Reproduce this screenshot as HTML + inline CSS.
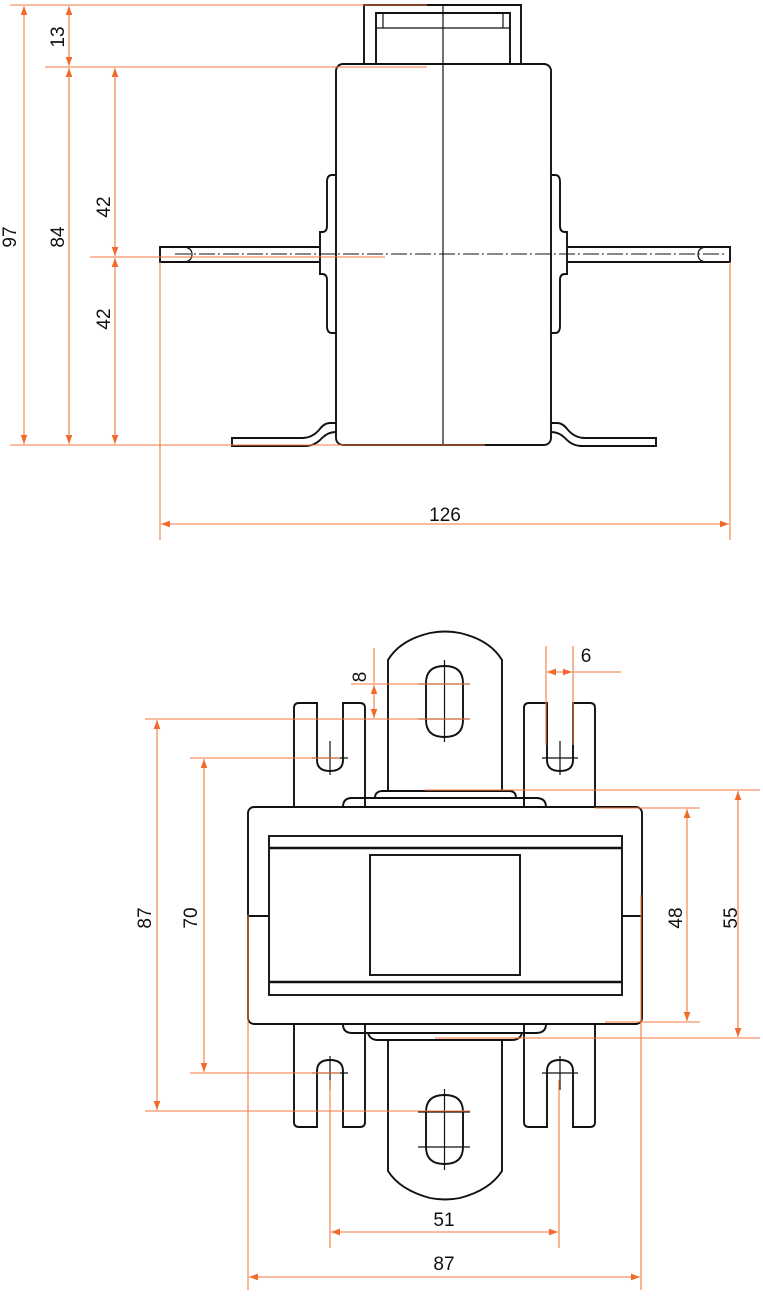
<!DOCTYPE html>
<html><head><meta charset="utf-8"><style>
html,body{margin:0;padding:0;background:#fff;}
svg{display:block;}
text{font-family:"Liberation Sans",Arial,sans-serif;font-size:19px;fill:#111;}
.k{fill:none;stroke:#111;stroke-width:1.9;}
.kt{fill:none;stroke:#111;stroke-width:1.2;}
.c{fill:none;stroke:#111;stroke-width:1;stroke-dasharray:16 3 2 3;}
.o{fill:none;stroke:#f47a3c;stroke-width:1.1;}
.d{fill:none;stroke:#f47a3c;stroke-width:1.1;marker-start:url(#a);marker-end:url(#a);}
</style></head><body>
<svg width="763" height="1296" viewBox="0 0 763 1296" xmlns="http://www.w3.org/2000/svg">
<defs>
<marker id="a" viewBox="0 0 10 10" refX="10" refY="5" markerWidth="9" markerHeight="9" markerUnits="userSpaceOnUse" orient="auto-start-reverse">
<path d="M10,5 L0,1.3 L0,8.7 Z" fill="#f26b2a"/>
</marker>
</defs>

<!-- ===== TOP VIEW ===== -->
<path class="k" d="M364,64 V5 H521 V64"/>
<path class="k" d="M376,64 V13 H510 V64"/>
<path class="kt" d="M376,28 H510 M383,13 V28 M503,13 V28"/>
<rect class="k" x="336" y="64" width="215" height="381" rx="7"/>
<line class="kt" x1="443" y1="5" x2="443" y2="445"/>
<path class="k" d="M336,175 H332 Q327,175 327,182 V226 Q327,232 322,232 H320 V274 H322 Q327,274 327,280 V326 Q327,333 332,333 H336"/>
<path class="k" d="M551,175 H555 Q560,175 560,182 V226 Q560,232 565,232 H567 V274 H565 Q560,274 560,280 V326 Q560,333 555,333 H551"/>
<path class="k" d="M320,247 H160 V262 H320"/>
<path class="kt" d="M182,247 Q192,247 192,254.5 Q192,262 182,262"/>
<path class="k" d="M567,247 H730 V262 H567"/>
<path class="kt" d="M708,247 Q698,247 698,254.5 Q698,262 708,262"/>
<line class="c" x1="175" y1="254" x2="725" y2="254"/>
<path class="k" d="M336,423 H330 Q324,423 319,430 Q312,438 302,438 H232 V446 H305 Q315,446 322,438 Q328,432 336,432"/>
<path class="k" d="M551,423 H557 Q563,423 568,430 Q575,438 585,438 H656 V446 H582 Q572,446 565,438 Q559,432 551,432"/>

<line class="o" x1="10" y1="5" x2="427" y2="5"/>
<line class="o" x1="45" y1="67" x2="427" y2="67"/>
<line class="o" x1="90" y1="257" x2="385" y2="257"/>
<line class="o" x1="10" y1="445" x2="485" y2="445"/>
<line class="d" x1="24" y1="6" x2="24" y2="444"/>
<line class="d" x1="69" y1="6" x2="69" y2="66"/>
<line class="d" x1="69" y1="68" x2="69" y2="444"/>
<line class="d" x1="115" y1="68" x2="115" y2="256"/>
<line class="d" x1="115" y1="258" x2="115" y2="444"/>
<line class="o" x1="160" y1="262" x2="160" y2="540"/>
<line class="o" x1="730" y1="262" x2="730" y2="540"/>
<line class="d" x1="161" y1="524" x2="729" y2="524"/>
<text transform="translate(16,237) rotate(-90)" text-anchor="middle">97</text>
<text transform="translate(64,237) rotate(-90)" text-anchor="middle">84</text>
<text transform="translate(64,37) rotate(-90)" text-anchor="middle">13</text>
<text transform="translate(110,207) rotate(-90)" text-anchor="middle">42</text>
<text transform="translate(110,319) rotate(-90)" text-anchor="middle">42</text>
<text x="445" y="521" text-anchor="middle">126</text>

<!-- ===== BOTTOM VIEW ===== -->
<path class="k" d="M388,791 V660 Q400,640 430,633 Q445,630 460,633 Q490,640 502,660 V791"/>
<path class="k" d="M426,683 Q426,666 444.5,666 Q463,666 463,683 V720 Q463,737 444.5,737 Q426,737 426,720 Z"/>
<path class="kt" d="M444.5,660 V742 M418,684 H470 M418,719 H470"/>
<path class="k" d="M294,807 V708 Q294,703 299,703 H317 V760 Q317,771 330,771 Q343,771 343,760 V703 H360 Q365,703 365,708 V807"/>
<path class="k" d="M524,807 V708 Q524,703 529,703 H547 V760 Q547,771 560,771 Q573,771 573,760 V703 H590 Q595,703 595,708 V807"/>
<path class="kt" d="M330,741 V775 M312,758 H348 M560,741 V775 M542,758 H578"/>
<path class="k" d="M343,807 Q343,798 352,798 H536 Q546,798 546,807"/>
<path class="k" d="M375,798 Q375,791 383,791 H509 Q516,791 516,798"/>
<rect class="k" x="248" y="807" width="394" height="217" rx="6"/>
<rect class="k" x="269" y="836" width="353" height="159"/>
<line x1="269" y1="848" x2="622" y2="848" stroke="#111" stroke-width="2.6"/>
<line x1="269" y1="982" x2="622" y2="982" stroke="#111" stroke-width="2.6"/>
<rect class="k" x="370" y="855" width="150" height="120"/>
<path class="k" d="M248,916 H269 M622,916 H642"/>
<path class="k" d="M343,1024 Q343,1033 352,1033 H536 Q546,1033 546,1024"/>
<path class="k" d="M368,1033 Q370,1040 378,1040 H512 Q520,1040 522,1033"/>
<path class="k" d="M388,1040 V1171 Q400,1190 430,1198 Q445,1201 460,1198 Q490,1190 502,1171 V1040"/>
<path class="k" d="M426,1112 Q426,1095 444.5,1095 Q463,1095 463,1112 V1147 Q463,1164 444.5,1164 Q426,1164 426,1147 Z"/>
<path class="kt" d="M444.5,1089 V1170 M418,1112 H470 M418,1147 H470"/>
<path class="k" d="M294,1024 V1122 Q294,1127 299,1127 H317 V1071 Q317,1060 330,1060 Q343,1060 343,1071 V1127 H360 Q365,1127 365,1122 V1024"/>
<path class="k" d="M524,1024 V1122 Q524,1127 529,1127 H547 V1071 Q547,1060 560,1060 Q573,1060 573,1071 V1127 H590 Q595,1127 595,1122 V1024"/>
<path class="kt" d="M330,1056 V1090 M312,1073 H348 M560,1056 V1090 M542,1073 H578"/>

<line class="o" x1="351" y1="684" x2="470" y2="684"/>
<line class="o" x1="145" y1="719" x2="470" y2="719"/>
<line class="o" x1="374" y1="648" x2="374" y2="683"/>
<line class="d" x1="374" y1="685" x2="374" y2="718"/>
<line class="o" x1="546" y1="646" x2="546" y2="745"/>
<line class="o" x1="573" y1="646" x2="573" y2="745"/>
<line class="d" x1="547" y1="672" x2="572" y2="672"/>
<line class="o" x1="573" y1="672" x2="621" y2="672"/>
<line class="o" x1="190" y1="758" x2="340" y2="758"/>
<line class="o" x1="190" y1="1073" x2="340" y2="1073"/>
<line class="o" x1="145" y1="1111" x2="470" y2="1111"/>
<line class="d" x1="157" y1="720" x2="157" y2="1110"/>
<line class="d" x1="204" y1="759" x2="204" y2="1072"/>
<line class="o" x1="425" y1="790" x2="760" y2="790"/>
<line class="o" x1="595" y1="808" x2="700" y2="808"/>
<line class="o" x1="605" y1="1022" x2="700" y2="1022"/>
<line class="o" x1="435" y1="1038" x2="760" y2="1038"/>
<line class="d" x1="687" y1="809" x2="687" y2="1021"/>
<line class="d" x1="738" y1="791" x2="738" y2="1037"/>
<line class="o" x1="330" y1="1080" x2="330" y2="1248"/>
<line class="o" x1="559" y1="1080" x2="559" y2="1248"/>
<line class="d" x1="331" y1="1232" x2="558" y2="1232"/>
<line class="o" x1="248" y1="915" x2="248" y2="1290"/>
<line class="o" x1="641" y1="895" x2="641" y2="1290"/>
<line class="d" x1="249" y1="1277" x2="640" y2="1277"/>
<text transform="translate(366,677) rotate(-90)" text-anchor="middle">8</text>
<text x="586" y="662" text-anchor="middle">6</text>
<text transform="translate(151,918) rotate(-90)" text-anchor="middle">87</text>
<text transform="translate(197,918) rotate(-90)" text-anchor="middle">70</text>
<text transform="translate(682,918) rotate(-90)" text-anchor="middle">48</text>
<text transform="translate(737,918) rotate(-90)" text-anchor="middle">55</text>
<text x="444" y="1226" text-anchor="middle">51</text>
<text x="444" y="1270" text-anchor="middle">87</text>
</svg>
</body></html>
